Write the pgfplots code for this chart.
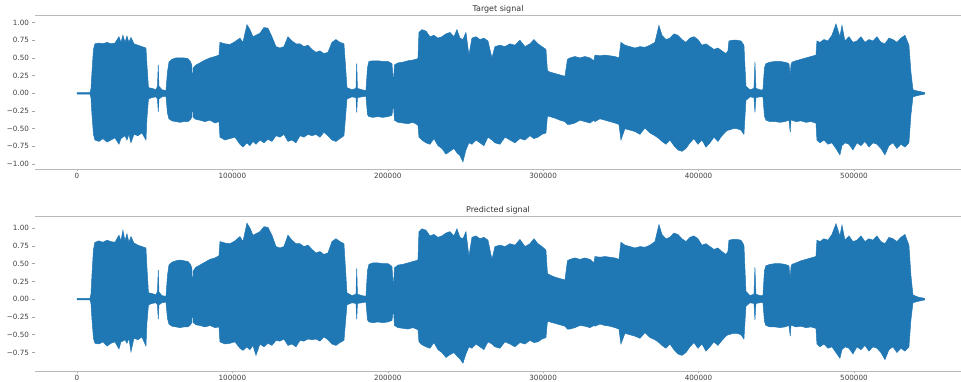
\documentclass[border=0pt]{standalone}
\usepackage{pgfplots}
\pgfplotsset{compat=1.18}
\usepackage{pgfplotstable}
\usepgfplotslibrary{fillbetween}
\usepackage{fontspec}
\setmainfont{DejaVu Sans}
\definecolor{tblue}{HTML}{1F77B4}
\pgfplotstableread{
x hi lo phi plo
0 0.01 -0.01 0.01 -0.01
8370 0.01 -0.01 0.01 -0.01
9010 0.06 -0.06 0.07 -0.06
9650 0.30 -0.30 0.34 -0.28
10620 0.62 -0.58 0.70 -0.55
11580 0.70 -0.66 0.80 -0.62
14160 0.71 -0.68 0.82 -0.63
16730 0.70 -0.64 0.80 -0.60
19310 0.72 -0.69 0.83 -0.66
21880 0.70 -0.66 0.81 -0.62
24450 0.71 -0.63 0.80 -0.60
27030 0.80 -0.72 0.90 -0.70
28310 0.72 -0.64 0.82 -0.60
29600 0.82 -0.62 0.97 -0.59
30890 0.72 -0.60 0.82 -0.57
32180 0.81 -0.66 0.92 -0.62
33460 0.72 -0.58 0.80 -0.55
34750 0.79 -0.70 0.88 -0.74
36680 0.70 -0.58 0.79 -0.55
39250 0.68 -0.60 0.76 -0.57
41830 0.66 -0.56 0.74 -0.53
44400 0.64 -0.66 0.72 -0.66
45050 0.40 -0.35 0.44 -0.33
46010 0.08 -0.08 0.09 -0.08
48260 0.07 -0.06 0.08 -0.06
50840 0.05 -0.05 0.06 -0.05
51800 0.10 -0.08 0.11 -0.08
52320 0.40 -0.26 0.41 -0.28
52770 0.10 -0.08 0.10 -0.08
54700 0.05 -0.05 0.05 -0.05
57270 0.04 -0.04 0.04 -0.04
58240 0.30 -0.28 0.33 -0.27
59200 0.44 -0.36 0.48 -0.35
61130 0.48 -0.39 0.52 -0.38
63710 0.50 -0.40 0.54 -0.39
66280 0.50 -0.41 0.55 -0.40
68850 0.50 -0.40 0.54 -0.39
71430 0.49 -0.40 0.53 -0.39
73040 0.45 -0.37 0.49 -0.36
73870 0.40 -0.34 0.44 -0.33
74320 0.12 -0.12 0.13 -0.12
74840 0.36 -0.34 0.40 -0.33
76580 0.40 -0.37 0.45 -0.36
79150 0.43 -0.38 0.48 -0.37
82370 0.47 -0.40 0.52 -0.39
85590 0.50 -0.38 0.56 -0.37
88800 0.52 -0.42 0.58 -0.40
91380 0.54 -0.40 0.61 -0.39
92020 0.72 -0.62 0.81 -0.60
95240 0.70 -0.66 0.79 -0.63
98460 0.69 -0.64 0.78 -0.62
101670 0.73 -0.62 0.82 -0.60
104890 0.78 -0.72 0.88 -0.69
106820 0.72 -0.76 0.81 -0.72
109400 0.97 -0.70 1.07 -0.67
111330 0.90 -0.74 1.00 -0.71
113260 0.80 -0.68 0.90 -0.65
115190 0.82 -0.72 0.92 -0.79
117760 0.85 -0.66 0.95 -0.63
120330 0.93 -0.70 1.02 -0.67
122910 0.92 -0.65 1.01 -0.62
125480 0.80 -0.68 0.90 -0.65
128060 0.66 -0.60 0.74 -0.58
130630 0.64 -0.62 0.72 -0.59
133200 0.66 -0.58 0.74 -0.56
135780 0.80 -0.68 0.90 -0.65
138350 0.74 -0.66 0.83 -0.63
140930 0.70 -0.70 0.78 -0.67
143500 0.70 -0.60 0.78 -0.58
146070 0.66 -0.62 0.74 -0.59
148650 0.68 -0.58 0.76 -0.56
151220 0.62 -0.60 0.70 -0.57
153800 0.58 -0.58 0.65 -0.56
156370 0.60 -0.62 0.67 -0.59
158940 0.56 -0.55 0.63 -0.53
161520 0.58 -0.60 0.65 -0.57
164090 0.72 -0.66 0.81 -0.63
166670 0.76 -0.68 0.85 -0.65
169240 0.72 -0.64 0.81 -0.61
171810 0.70 -0.60 0.78 -0.58
172780 0.40 -0.35 0.44 -0.33
173750 0.08 -0.08 0.09 -0.08
176960 0.05 -0.05 0.05 -0.05
179540 0.07 -0.06 0.07 -0.06
180050 0.42 -0.27 0.43 -0.28
180500 0.07 -0.06 0.07 -0.06
183400 0.05 -0.05 0.05 -0.05
185970 0.04 -0.04 0.04 -0.04
186940 0.36 -0.30 0.40 -0.29
187900 0.45 -0.33 0.49 -0.32
190480 0.46 -0.34 0.51 -0.33
193690 0.46 -0.33 0.51 -0.32
196910 0.45 -0.34 0.50 -0.33
200130 0.45 -0.33 0.50 -0.32
202700 0.42 -0.31 0.46 -0.30
203670 0.15 -0.15 0.16 -0.14
204310 0.40 -0.38 0.44 -0.37
206560 0.43 -0.41 0.48 -0.40
209780 0.44 -0.42 0.49 -0.41
213000 0.46 -0.43 0.51 -0.42
216220 0.47 -0.41 0.53 -0.40
219430 0.49 -0.45 0.55 -0.43
220080 0.86 -0.62 0.95 -0.60
222010 0.90 -0.66 0.99 -0.64
224580 0.88 -0.70 0.97 -0.67
227160 0.80 -0.72 0.89 -0.69
229730 0.82 -0.64 0.91 -0.61
232300 0.78 -0.74 0.87 -0.71
234880 0.80 -0.78 0.89 -0.75
237450 0.84 -0.86 0.93 -0.82
240030 0.86 -0.82 0.95 -0.78
242600 0.80 -0.78 0.89 -0.75
244530 0.90 -0.84 0.99 -0.80
246460 0.78 -0.88 0.87 -0.84
248390 0.76 -0.97 0.85 -0.90
250320 0.86 -0.80 0.95 -0.77
252250 0.54 -0.70 0.60 -0.67
254180 0.78 -0.72 0.87 -0.69
256760 0.80 -0.66 0.89 -0.63
259330 0.76 -0.70 0.85 -0.67
261900 0.78 -0.74 0.87 -0.71
264480 0.74 -0.62 0.83 -0.60
267050 0.50 -0.66 0.56 -0.63
268980 0.66 -0.70 0.74 -0.67
272200 0.68 -0.72 0.76 -0.69
275420 0.66 -0.62 0.74 -0.60
278640 0.70 -0.66 0.78 -0.63
281850 0.68 -0.70 0.76 -0.67
285070 0.75 -0.64 0.84 -0.61
288290 0.66 -0.66 0.74 -0.63
291510 0.70 -0.60 0.78 -0.58
294080 0.76 -0.64 0.85 -0.61
296650 0.70 -0.62 0.78 -0.60
299230 0.66 -0.58 0.74 -0.56
301800 0.62 -0.56 0.69 -0.54
302770 0.32 -0.32 0.36 -0.31
304380 0.30 -0.33 0.34 -0.32
307590 0.28 -0.35 0.31 -0.34
310810 0.26 -0.38 0.29 -0.36
314030 0.24 -0.40 0.27 -0.38
315640 0.48 -0.44 0.54 -0.42
317250 0.50 -0.44 0.56 -0.42
320460 0.52 -0.42 0.58 -0.40
323680 0.50 -0.38 0.56 -0.37
326900 0.52 -0.40 0.58 -0.38
330120 0.50 -0.42 0.56 -0.40
332690 0.46 -0.38 0.51 -0.37
333330 0.54 -0.40 0.60 -0.38
336550 0.53 -0.36 0.59 -0.35
339770 0.54 -0.38 0.60 -0.37
342990 0.53 -0.40 0.59 -0.38
346200 0.52 -0.42 0.58 -0.40
348780 0.50 -0.44 0.56 -0.42
350060 0.72 -0.66 0.80 -0.63
352640 0.68 -0.50 0.76 -0.48
355860 0.66 -0.52 0.74 -0.50
359070 0.64 -0.54 0.72 -0.52
362290 0.66 -0.58 0.74 -0.55
365510 0.65 -0.49 0.73 -0.47
368730 0.68 -0.56 0.76 -0.54
371940 0.72 -0.60 0.81 -0.57
374520 0.96 -0.64 1.05 -0.61
376450 0.82 -0.68 0.91 -0.65
379020 0.76 -0.72 0.85 -0.69
381600 0.78 -0.66 0.87 -0.63
384170 0.84 -0.74 0.93 -0.71
386740 0.82 -0.80 0.91 -0.77
389320 0.76 -0.82 0.85 -0.79
391890 0.72 -0.78 0.81 -0.75
394470 0.78 -0.70 0.87 -0.67
397040 0.80 -0.64 0.89 -0.61
399610 0.76 -0.72 0.85 -0.69
402190 0.68 -0.66 0.76 -0.63
404760 0.70 -0.76 0.78 -0.73
407340 0.66 -0.70 0.74 -0.67
409910 0.62 -0.62 0.70 -0.60
412480 0.64 -0.68 0.72 -0.65
415060 0.60 -0.60 0.67 -0.58
417630 0.56 -0.54 0.63 -0.52
418920 0.60 -0.52 0.67 -0.50
419560 0.74 -0.52 0.83 -0.50
422140 0.75 -0.50 0.84 -0.48
424710 0.75 -0.50 0.84 -0.48
427280 0.74 -0.52 0.83 -0.50
429210 0.68 -0.58 0.76 -0.56
430500 0.10 -0.10 0.11 -0.10
433080 0.05 -0.05 0.05 -0.05
435650 0.07 -0.06 0.07 -0.06
436290 0.44 -0.27 0.45 -0.29
436940 0.07 -0.06 0.07 -0.06
439510 0.05 -0.05 0.05 -0.05
441440 0.05 -0.05 0.05 -0.05
442410 0.36 -0.32 0.40 -0.31
443370 0.42 -0.38 0.47 -0.37
445950 0.44 -0.40 0.49 -0.39
449160 0.45 -0.40 0.50 -0.39
452380 0.45 -0.41 0.50 -0.40
455600 0.44 -0.40 0.49 -0.39
458170 0.42 -0.38 0.47 -0.37
459010 0.25 -0.55 0.28 -0.52
459460 0.40 -0.38 0.45 -0.37
460100 0.44 -0.38 0.49 -0.37
462680 0.46 -0.40 0.51 -0.39
465890 0.48 -0.39 0.54 -0.38
469110 0.50 -0.41 0.56 -0.40
472330 0.52 -0.40 0.58 -0.39
475550 0.54 -0.42 0.60 -0.41
476190 0.74 -0.66 0.83 -0.63
478120 0.72 -0.70 0.81 -0.67
480690 0.76 -0.66 0.85 -0.63
483270 0.74 -0.72 0.83 -0.69
485840 0.82 -0.70 0.91 -0.67
488420 0.98 -0.78 1.06 -0.75
490990 0.80 -0.87 0.89 -0.83
492280 0.96 -0.74 1.04 -0.71
494210 0.74 -0.70 0.83 -0.67
496780 0.80 -0.72 0.89 -0.69
499360 0.72 -0.80 0.81 -0.77
501930 0.74 -0.70 0.83 -0.67
504500 0.80 -0.74 0.89 -0.71
507080 0.72 -0.68 0.81 -0.65
509650 0.76 -0.76 0.85 -0.73
512230 0.74 -0.70 0.83 -0.67
514800 0.80 -0.72 0.89 -0.69
517370 0.72 -0.78 0.81 -0.75
519950 0.70 -0.87 0.78 -0.85
522520 0.78 -0.74 0.87 -0.71
525100 0.76 -0.70 0.85 -0.67
527670 0.72 -0.78 0.81 -0.75
530240 0.78 -0.72 0.87 -0.69
532820 0.82 -0.76 0.91 -0.73
535390 0.68 -0.70 0.76 -0.67
536680 0.30 -0.30 0.33 -0.29
537970 0.05 -0.05 0.06 -0.05
541180 0.03 -0.03 0.03 -0.03
545690 0.01 -0.01 0.01 -0.01
}\sigdata
\pgfplotsset{
  sigstyle/.style={
    scale only axis, width=926pt,
    xmin=-27000, xmax=568900,
    separate axis lines,
    y axis line style={draw=none},
    x axis line style={draw=gray!55, line width=0.9pt},
    xtick={0,100000,200000,300000,400000,500000},
    xticklabels={0,100000,200000,300000,400000,500000},
    scaled x ticks=false,
    tick pos=left,
    tick align=outside,
    major tick length=2.5pt,
    every tick/.style={gray!70, line width=0.5pt},
    ticklabel style={font=\fontsize{7.2}{8}\selectfont, text=black!75},
    xticklabel style={yshift=2pt},
    /pgf/number format/assume math mode=true,
    clip=false,
  }
}
\tikzset{ttl/.style={font=\fontsize{8}{9}\selectfont, text=black!80, anchor=base, inner sep=0pt, yshift=3pt}}
\begin{document}
\begin{tikzpicture}[x=1pt,y=1pt]
\begin{axis}[sigstyle, at={(35pt,213pt)}, anchor=south west, height=154pt,
  ymin=-1.07, ymax=1.107,
  ytick={-1,-0.75,-0.5,-0.25,0,0.25,0.5,0.75,1},
  yticklabels={−1.00,−0.75,−0.50,−0.25,0.00,0.25,0.50,0.75,1.00}]
\addplot[name path=hi, draw=tblue, line width=0.5pt] table[x=x,y=hi]{\sigdata};
\addplot[name path=lo, draw=tblue, line width=0.5pt] table[x=x,y=lo]{\sigdata};
\addplot[tblue, draw=none] fill between[of=hi and lo];
\node[ttl] at (rel axis cs:0.5,1) {Target signal};
\end{axis}
\begin{axis}[sigstyle, at={(35pt,11pt)}, anchor=south west, height=155pt,
  ymin=-1.01, ymax=1.17,
  ytick={-0.75,-0.5,-0.25,0,0.25,0.5,0.75,1},
  yticklabels={−0.75,−0.50,−0.25,0.00,0.25,0.50,0.75,1.00}]
\addplot[name path=phi, draw=tblue, line width=0.5pt] table[x=x,y=phi]{\sigdata};
\addplot[name path=plo, draw=tblue, line width=0.5pt] table[x=x,y=plo]{\sigdata};
\addplot[tblue, draw=none] fill between[of=phi and plo];
\node[ttl] at (rel axis cs:0.5,1) {Predicted signal};
\end{axis}
\pgfresetboundingbox
\path (0,0) rectangle (961,382);
\end{tikzpicture}
\end{document}
